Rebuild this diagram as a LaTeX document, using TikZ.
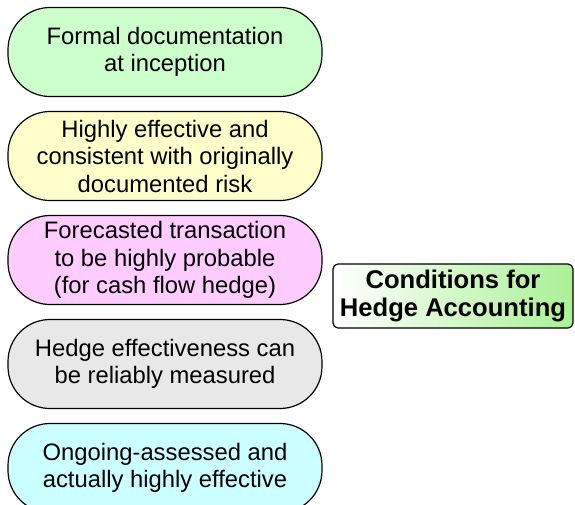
\documentclass[tikz,border=0pt]{standalone}
\usepackage{fontspec}
\setmainfont{Liberation Sans}
\definecolor{docgreen}{RGB}{204,255,204}
\definecolor{effyellow}{RGB}{255,255,204}
\definecolor{fcpink}{RGB}{255,204,255}
\definecolor{measgrey}{RGB}{232,232,232}
\definecolor{ongcyan}{RGB}{204,255,255}
\definecolor{headgreen}{RGB}{170,240,150}

\begin{document}
\begin{tikzpicture}[x=0.5pt,y=-0.5pt]
\tikzstyle{cond}=[
	draw,
	line width=0.6pt,
	rounded corners=21pt,
	minimum width=157pt,
	minimum height=44.5pt,
	inner sep=0pt,
	align=center,
	font=\fontsize{11.9}{13.75}\selectfont ]
\tikzstyle{heading}=[
	draw,
	line width=0.6pt,
	rounded corners=2.5pt,
	left color=white,
	right color=headgreen,
	minimum width=120pt,
	minimum height=32pt,
	inner sep=0pt,
	align=center,
	font=\bfseries\fontsize{12.8}{14}\selectfont ]
\useasboundingbox (0,0) rectangle (575,505);
% the five conditions
\node[cond, fill=docgreen] (formal) at (165,52) {Formal documentation\\at inception};
\node[cond, fill=effyellow] (effective) at (165,156) {Highly effective and\\consistent with originally\\documented risk};
\node[cond, fill=fcpink] (forecast) at (165,260) {Forecasted transaction\\to be highly probable\\(for cash flow hedge)};
\node[cond, fill=measgrey] (measured) at (165,364) {Hedge effectiveness can\\be reliably measured};
\node[cond, fill=ongcyan] (ongoing) at (165,468) {Ongoing-assessed and\\actually highly effective};
% heading
\node[heading] (conditions) at (453,296) {Conditions for\\Hedge Accounting};
\end{tikzpicture}
\end{document}
